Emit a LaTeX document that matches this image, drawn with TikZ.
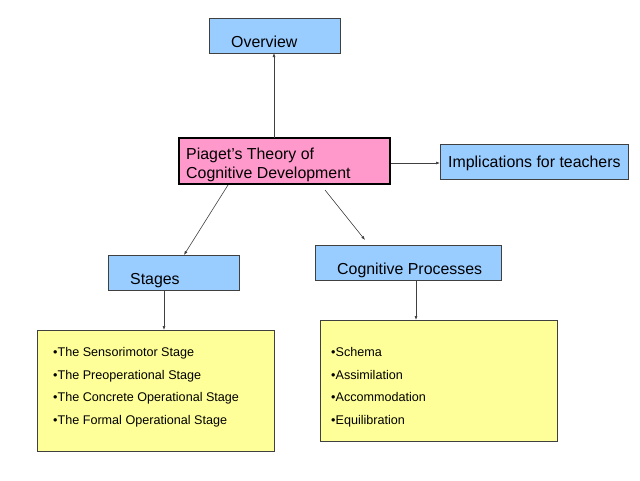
\documentclass[tikz,border=0pt]{standalone}
\usepackage{fontspec}
\setmainfont{Liberation Sans}
\usetikzlibrary{arrows.meta}
\definecolor{boxblue}{HTML}{99CCFF}
\definecolor{boxpink}{HTML}{FF99CC}
\definecolor{boxyellow}{HTML}{FFFF99}
\definecolor{edgegray}{HTML}{404040}
\begin{document}
\begin{tikzpicture}[x=1pt,y=-1pt,
  bluebox/.style={draw=edgegray,line width=0.6pt,fill=boxblue,inner sep=0pt},
  pinkbox/.style={draw=black,line width=1.6pt,fill=boxpink,inner sep=0pt},
  yellowbox/.style={draw=edgegray,line width=0.6pt,fill=boxyellow,inner sep=0pt},
  lbl/.style={font=\fontsize{15.9}{18}\selectfont,inner sep=0pt,anchor=base west},
  item/.style={font=\fontsize{12.6}{15}\selectfont,inner sep=0pt,anchor=base west},
  conn/.style={draw=edgegray,line width=0.6pt,-{Latex[length=4pt,width=3pt]}}]
\useasboundingbox (0,0) rectangle (640,480);
% boxes
\draw[bluebox] (209,18) rectangle (340,53);
\node[minimum width=131pt,minimum height=35pt,inner sep=0pt] (ov) at (274.5,35.5) {};
\node[lbl] (ovt) at (231,47) {Overview};

\draw[pinkbox] (179,138) rectangle (390,184);
\node[minimum width=211pt,minimum height=46pt,inner sep=0pt] (pt) at (284.5,161) {};
\node[lbl] (pt1) at (186,159) {Piaget’s Theory of};
\node[lbl] (pt2) at (186,178) {Cognitive Development};

\draw[bluebox] (440,144) rectangle (628,179);
\node[minimum width=188pt,minimum height=35pt,inner sep=0pt] (imp) at (534,161.5) {};
\node[lbl] (impt) at (448,167) {Implications for teachers};

\draw[bluebox] (108,255) rectangle (239,290);
\node[minimum width=131pt,minimum height=35pt,inner sep=0pt] (st) at (173.5,272.5) {};
\node[lbl] (stt) at (130,284) {Stages};

\draw[bluebox] (315,245) rectangle (501,280);
\node[minimum width=186pt,minimum height=35pt,inner sep=0pt] (cp) at (408,262.5) {};
\node[lbl] (cpt) at (337,274) {Cognitive Processes};

\draw[yellowbox] (37,330) rectangle (274,451);
\node[minimum width=237pt,minimum height=121pt,inner sep=0pt] (sl) at (155.5,390.5) {};
\node[item] (s1) at (53,356) {•The Sensorimotor Stage};
\node[item] (s2) at (53,379) {•The Preoperational Stage};
\node[item] (s3) at (53,401) {•The Concrete Operational Stage};
\node[item] (s4) at (53,424) {•The Formal Operational Stage};

\draw[yellowbox] (320,320) rectangle (557,441);
\node[minimum width=237pt,minimum height=121pt,inner sep=0pt] (pl) at (438.5,380.5) {};
\node[item] (p1) at (331,356) {•Schema};
\node[item] (p2) at (331,379) {•Assimilation};
\node[item] (p3) at (331,401) {•Accommodation};
\node[item] (p4) at (331,424) {•Equilibration};

% connectors
\coordinate (a1) at (274,138);
\coordinate (a1e) at (274,53);
\draw[conn] (a1) -- (a1e);
\coordinate (a2) at (391,163);
\coordinate (a2e) at (440,163);
\draw[conn] (a2) -- (a2e);
\coordinate (a3) at (228,185);
\coordinate (a3e) at (184,255);
\draw[conn] (a3) -- (a3e);
\coordinate (a4) at (325,190);
\coordinate (a4e) at (365,240);
\draw[conn] (a4) -- (a4e);
\coordinate (a5) at (164,290);
\coordinate (a5e) at (164,330);
\draw[conn] (a5) -- (a5e);
\coordinate (a6) at (416,280);
\coordinate (a6e) at (416,320);
\draw[conn] (a6) -- (a6e);
\end{tikzpicture}
\end{document}
